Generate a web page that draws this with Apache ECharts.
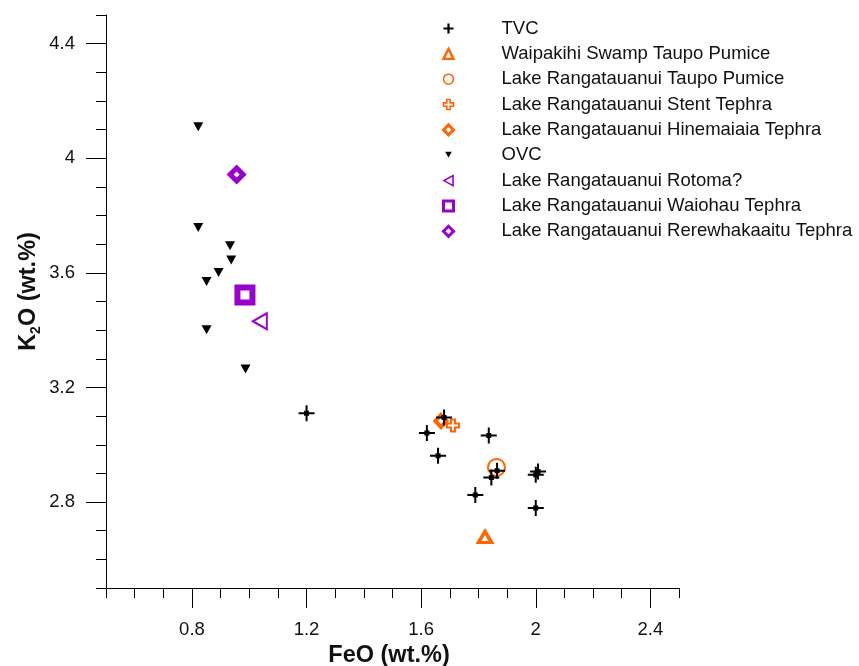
<!DOCTYPE html>
<html><head><meta charset="utf-8">
<script src="https://cdn.jsdelivr.net/npm/echarts@6/dist/echarts.min.js"></script>
<style>html,body{margin:0;padding:0;background:#fff}#c{width:859px;height:666px}</style>
</head><body><div id="c"></div>
<script>
// ---- data (FeO wt.%, K2O wt.%) ----
const seriesNames = [
  'TVC',
  'Waipakihi Swamp Taupo Pumice',
  'Lake Rangatauanui Taupo Pumice',
  'Lake Rangatauanui Stent Tephra',
  'Lake Rangatauanui Hinemaiaia Tephra',
  'OVC',
  'Lake Rangatauanui Rotoma?',
  'Lake Rangatauanui Waiohau Tephra',
  'Lake Rangatauanui Rerewhakaaitu Tephra'
];
const tvcFeO = [1.20, 1.68, 1.62, 1.836, 1.659, 1.865, 1.845, 2.008, 2.000, 2.000, 1.789];
const tvcK2O = [3.11, 3.095, 3.041, 3.032, 2.962, 2.909, 2.886, 2.907, 2.895, 2.779, 2.825];
const waipakihiFeO = [1.823];
const waipakihiK2O = [2.678];
const taupoFeO = [1.863];
const taupoK2O = [2.921];
const stentFeO = [1.711];
const stentK2O = [3.067];
const hinemaiaiaFeO = [1.669];
const hinemaiaiaK2O = [3.083];
const ovcFeO = [0.822, 0.822, 0.933, 0.937, 0.893, 0.851, 0.851, 0.987];
const ovcK2O = [4.110, 3.758, 3.695, 3.645, 3.601, 3.570, 3.401, 3.264];
const rotomaFeO = [1.037];
const rotomaK2O = [3.431];
const waiohauFeO = [0.985];
const waiohauK2O = [3.523];
const rerewhakaaituFeO = [0.956];
const rerewhakaaituK2O = [3.943];
const xMajorTicks = [0.8, 1.2, 1.6, 2.0, 2.4];
const yMajorTicks = [2.8, 3.2, 3.6, 4.0, 4.4];

// ---- styling ----
const ORANGE = '#ff6600';
const PURPLE = '#9900cc';
const FONT = 'Liberation Sans, Arial, sans-serif';
const PLUS_SOLID = 'path://M0,7H16V9H0Z M7,0H9V16H7Z M5.5,5.5H10.5V10.5H5.5Z';
const PLUS_LEGEND = 'path://M0,3.5H9V5.5H0Z M3.5,0H5.5V9H3.5Z';
const PLUS_OUTLINE = 'path://M4,0H8V4H12V8H8V12H4V8H0V4H4Z';
const TRI_DOWN = 'path://M0,0L10,0L5,9Z';
const TRI_LEFT = 'path://M10,0L10,11L0,5.5Z';

function pts(xs, ys) { return xs.map((x, i) => [x, ys[i]]); }
const fmt = v => String(+(+v).toFixed(1));

function sc(name, xs, ys, symbol, size, itemStyle, z) {
  return {
    type: 'scatter', name, data: pts(xs, ys), symbol, symbolSize: size,
    itemStyle: Object.assign({ opacity: 1 }, itemStyle), z: z || 2,
    emphasis: { disabled: true }, silent: true, animation: false
  };
}

const series = [
  sc(seriesNames[1], waipakihiFeO, waipakihiK2O, 'triangle', [13, 11], { color: '#fff', borderColor: ORANGE, borderWidth: 3.5 }),
  sc(seriesNames[2], taupoFeO, taupoK2O, 'circle', 17, { color: 'rgba(255,255,255,0)', borderColor: ORANGE, borderWidth: 2 }),
  sc(seriesNames[3], stentFeO, stentK2O, PLUS_OUTLINE, [12, 12], { color: '#fff', borderColor: ORANGE, borderWidth: 2 }),
  sc(seriesNames[4], hinemaiaiaFeO, hinemaiaiaK2O, 'diamond', [11, 12], { color: '#fff', borderColor: ORANGE, borderWidth: 4 }),
  sc(seriesNames[6], rotomaFeO, rotomaK2O, TRI_LEFT, [14, 16], { color: '#fff', borderColor: PURPLE, borderWidth: 2 }),
  sc(seriesNames[7], waiohauFeO, waiohauK2O, 'rect', [15, 15], { color: '#fff', borderColor: PURPLE, borderWidth: 6 }),
  sc(seriesNames[8], rerewhakaaituFeO, rerewhakaaituK2O, 'diamond', [13, 13], { color: '#fff', borderColor: PURPLE, borderWidth: 5 }),
  sc(seriesNames[5], ovcFeO, ovcK2O, TRI_DOWN, [10, 9], { color: '#000' }, 3),
  sc(seriesNames[0], tvcFeO, tvcK2O, PLUS_SOLID, [16, 16], { color: '#000' }, 4)
];

const legendIcons = [
  { icon: PLUS_LEGEND, itemStyle: { color: '#000', borderWidth: 0, opacity: 1 } },
  { icon: 'triangle', itemStyle: { color: '#fff', borderColor: ORANGE, borderWidth: 2.4, opacity: 1 } },
  { icon: 'circle', itemStyle: { color: '#fff', borderColor: ORANGE, borderWidth: 1.6, opacity: 1 } },
  { icon: PLUS_OUTLINE, itemStyle: { color: '#fff', borderColor: ORANGE, borderWidth: 1.6, opacity: 1 } },
  { icon: 'diamond', itemStyle: { color: '#fff', borderColor: ORANGE, borderWidth: 3, opacity: 1 } },
  { icon: TRI_DOWN, itemStyle: { color: '#000', borderColor: '#fff', borderWidth: 2, opacity: 1 } },
  { icon: TRI_LEFT, itemStyle: { color: '#fff', borderColor: PURPLE, borderWidth: 1.6, opacity: 1 } },
  { icon: 'rect', itemStyle: { color: '#fff', borderColor: PURPLE, borderWidth: 3, opacity: 1 } },
  { icon: 'diamond', itemStyle: { color: '#fff', borderColor: PURPLE, borderWidth: 3, opacity: 1 } }
];

const axisLine = { show: true, onZero: false, lineStyle: { color: '#000', width: 1 } };
const labelStyle = { color: '#111', fontFamily: FONT, fontSize: 18.5 };
const nameStyle = { color: '#111', fontFamily: FONT, fontSize: 23.5, fontWeight: 'bold' };

const option = {
  backgroundColor: '#fff',
  animation: false,
  grid: { left: 106, top: 15, width: 573, height: 573, containLabel: false, outerBoundsMode: 'none' },
  legend: {
    orient: 'vertical', left: 442, top: 19, padding: 0,
    itemWidth: 10, itemHeight: 10, itemGap: 6.35, selectedMode: false,
    textStyle: { color: '#111', fontFamily: FONT, fontSize: 18.5, lineHeight: 18, padding: [0, 0, 0, 43] },
    data: seriesNames.map((n, i) => Object.assign({ name: n }, legendIcons[i]))
  },
  xAxis: [
    { type: 'value', min: 0.5, max: 2.5, interval: 0.1, position: 'bottom', axisLine,
      axisTick: { show: true, length: 10, lineStyle: { color: '#000' } },
      axisLabel: { show: false }, splitLine: { show: false } },
    { type: 'value', min: 0.5, max: 2.5, position: 'bottom', axisLine: { show: false },
      axisTick: { show: true, length: 20, customValues: xMajorTicks, lineStyle: { color: '#000' } },
      axisLabel: Object.assign({ show: true, customValues: xMajorTicks, margin: 32, formatter: fmt }, labelStyle),
      splitLine: { show: false },
      name: 'FeO (wt.%)', nameLocation: 'middle', nameGap: 55,
      nameTextStyle: Object.assign({}, nameStyle, { padding: [0, 7, 0, 0] }) }
  ],
  yAxis: [
    { type: 'value', min: 2.5, max: 4.5, interval: 0.1, position: 'left', axisLine,
      axisTick: { show: true, length: 10, lineStyle: { color: '#000' } },
      axisLabel: { show: false }, splitLine: { show: false } },
    { type: 'value', min: 2.5, max: 4.5, position: 'left', axisLine: { show: false },
      axisTick: { show: true, length: 20, customValues: yMajorTicks, lineStyle: { color: '#000' } },
      axisLabel: Object.assign({ show: true, customValues: yMajorTicks, margin: 31, formatter: fmt }, labelStyle),
      splitLine: { show: false },
      name: '{s| }{a|K}{b|2}{a|O (wt.%)}', nameLocation: 'middle', nameGap: 63, nameMoveOverlap: false,
      nameTextStyle: Object.assign({}, nameStyle, {
        rich: {
          s: { width: 20, fontSize: 10 },
          a: { fontFamily: FONT, fontSize: 23.5, fontWeight: 'bold', color: '#111', lineHeight: 28 },
          b: { fontFamily: FONT, fontSize: 14, fontWeight: 'bold', color: '#111', lineHeight: 14, verticalAlign: 'bottom' }
        }
      }) }
  ],
  series: series.map(s => Object.assign(s, { xAxisIndex: 0, yAxisIndex: 0 }))
};

const chart = echarts.init(document.getElementById('c'), null, { renderer: 'canvas' });
chart.setOption(option);
</script>
</body></html>
